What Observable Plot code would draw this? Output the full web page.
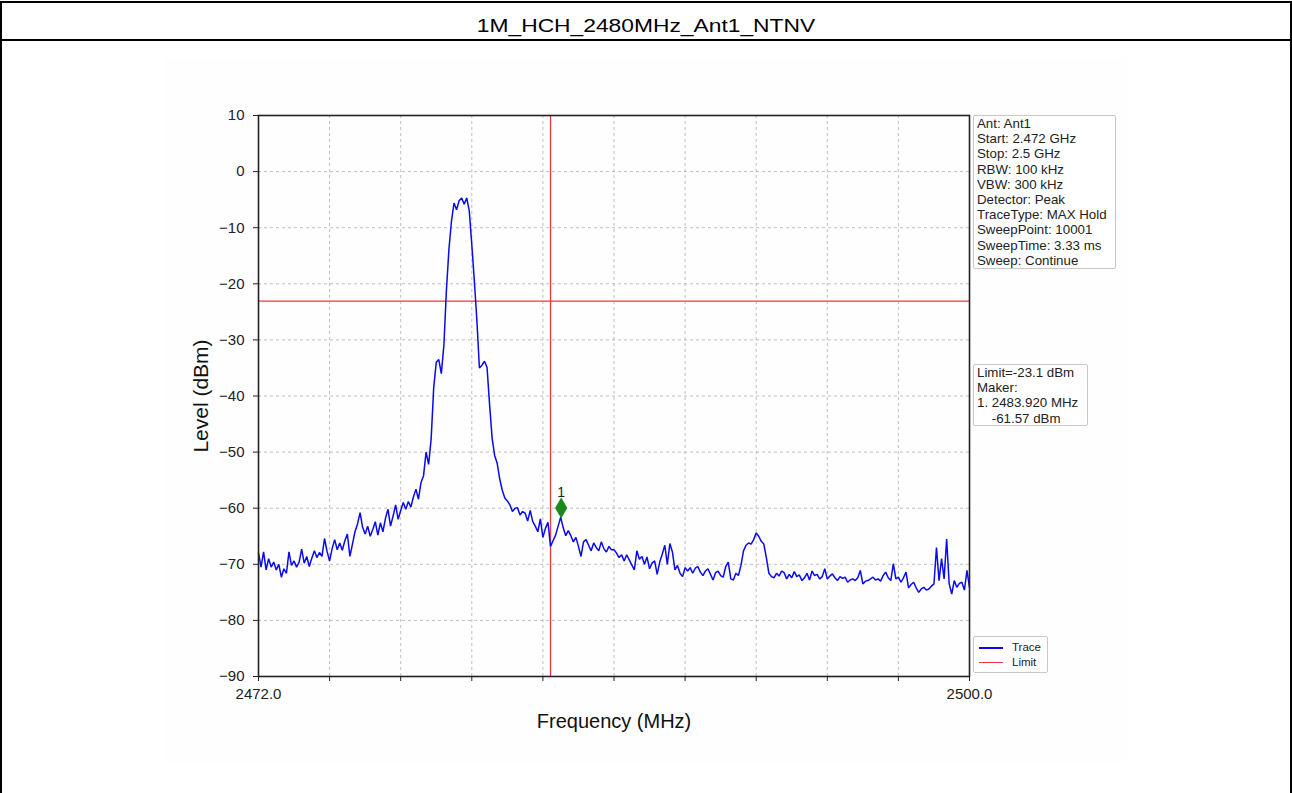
<!DOCTYPE html>
<html>
<head>
<meta charset="utf-8">
<script src="https://cdn.jsdelivr.net/npm/d3@7"></script>
<script src="https://cdn.jsdelivr.net/npm/@observablehq/plot@0.6"></script>
<style>
  html, body { margin: 0; padding: 0; background: #fff; }
  body { width: 1292px; height: 793px; overflow: hidden; font-family: "Liberation Sans", Arial, sans-serif; }
  #wrap { position: relative; width: 1292px; height: 793px; }
  #outer { position: absolute; left: 0; top: 1px; width: 1288px; height: 820px; border: 2px solid #000; }
  #titlebar { position: absolute; left: 0; top: 39px; width: 1292px; height: 2px; background: #000; }
  #title { position: absolute; left: 0; top: 15px; width: 1292px; text-align: center; font-size: 19px; line-height: 22px; color: #000; transform: scaleX(1.2); transform-origin: 646px 0; }
  #panel { position: absolute; left: 165px; top: 58px; width: 962px; height: 704px; background: #fefefe; }
  #chart { position: absolute; left: 0; top: 0; }
  .box { position: absolute; border: 1px solid #c8c8c8; border-radius: 2px; background: #fff; font-size: 13.3px; line-height: 15.2px; color: #222; padding: 0 2px 0 3px; white-space: nowrap; }
  .leg { position: absolute; font-size: 11.5px; color: #222; }
  .legline { position: absolute; height: 0; }
</style>
</head>
<body>
<div id="wrap">
  <div id="panel"></div>
  <div id="chart"></div>
  <div id="outer"></div>
  <div id="titlebar"></div>
  <div id="title"></div>
  <div id="info1" class="box" style="left:973px; top:115px; width:136px; height:152px;"></div>
  <div id="info2" class="box" style="left:973px; top:364px; width:108px; height:60px;"></div>
  <div id="legend" class="box" style="left:973px; top:636px; width:68px; height:35px;"></div>
</div>
<script>
// ---- data ----
const chartTitle = "1M_HCH_2480MHz_Ant1_NTNV";
const xLabel = "Frequency (MHz)";
const yLabel = "Level (dBm)";
const sweepStart = 2472.0;   // MHz
const sweepStop = 2500.0;    // MHz
const sweepStep = 0.1;       // MHz between read-off trace points
const traceLevel = [
  -68, -70.5, -67.8, -71, -69, -70.5, -69.6, -71, -70, -72.3,
  -70.8, -71.6, -67.8, -70.2, -69.4, -70.5, -69.6, -67.3, -69.8, -68.6,
  -70.4, -68.9, -67.6, -68.8, -67.9, -68.6, -65.4, -67.7, -69.4, -67.2,
  -65.6, -67.4, -66.2, -67.5, -65.8, -64.6, -68.6, -66.4, -64.2, -62.8,
  -60.8, -63.4, -64.6, -63.2, -65, -63.8, -62.4, -64.8, -62.6, -64.2,
  -61.8, -60.2, -63.2, -61.4, -59.4, -62, -60.4, -59, -60.2, -58.8,
  -59.8, -58, -56.6, -58.4, -55.4, -54.2, -50, -52.2, -47.6, -38.5,
  -34, -33.5, -36, -31, -21.2, -13.8, -8.8, -5.6, -6.8, -5.2,
  -4.7, -5.8, -4.7, -7, -13, -19.5, -26.5, -35, -34.5, -33.8,
  -34.9, -41.5, -47.5, -50.6, -52, -54.8, -56.8, -58.2, -58.7, -59.4,
  -60.6, -60, -59.9, -61.2, -60.6, -60.9, -62.3, -60.4, -62.4, -63.2,
  -64.2, -61.9, -65.2, -63.6, -62.5, -66.8, -65.8, -64.8, -63.2, -61.6,
  -63.5, -64.9, -64, -64.9, -66, -65.2, -66.8, -68.6, -66, -65.6,
  -66.6, -67.6, -66.2, -67, -67.6, -66, -67.2, -67.8, -66.8, -67.4,
  -67.4, -68, -68.8, -68.3, -69.4, -68.3, -69.2, -70.1, -71, -67.6,
  -69.1, -68.6, -70, -68.7, -70.8, -69.8, -69.4, -71.8, -69.6, -68.2,
  -66.6, -70, -66.3, -67.8, -71, -70.2, -71.6, -72.2, -70.6, -71.2,
  -70.6, -71.6, -70.7, -70.4, -71.4, -72, -71.2, -70.8, -71.8, -72.8,
  -71.5, -71.2, -72, -72.3, -70.4, -69.6, -72.6, -72.8, -71.6, -72,
  -70.2, -67.6, -66.6, -66.2, -66.4, -65.6, -64.4, -65, -65.9, -66.4,
  -68.8, -71.6, -72.2, -72.4, -71.6, -72.1, -71.2, -71.5, -72.6, -71.8,
  -72.4, -71.3, -72.2, -71.9, -72.9, -72.4, -71.6, -72.8, -71.2, -72,
  -71.8, -72.6, -72.2, -70.8, -72.6, -72.1, -71.7, -72.4, -72.9, -72.2,
  -72.5, -72.3, -73.2, -72.8, -72.6, -72.9, -72.4, -71.1, -73.5, -73,
  -72.9, -72.6, -72.3, -72.8, -72.6, -73, -72, -71.4, -72.4, -72.9,
  -69.9, -72.6, -72.3, -73.2, -72.4, -71.4, -74.2, -73.6, -73.2, -74.2,
  -75, -74.4, -74.1, -74.6, -74.4, -73.9, -73.5, -67, -72.9, -69,
  -72.6, -65.5, -73.5, -75.3, -72.9, -74.1, -73.4, -73.2, -74.6, -71.1,
  -74.1
];
const limitLevel = -23.1;        // dBm
const bandEdge = 2483.5;         // MHz (vertical red line)
const markerFreq = 2483.92;      // MHz
const markerLevel = -61.57;      // dBm
const markerName = "1";
const xTicks = [2472, 2474.8, 2477.6, 2480.4, 2483.2, 2486, 2488.8, 2491.6, 2494.4, 2497.2, 2500];
const xTickLabels = ["2472.0", "", "", "", "", "", "", "", "", "", "2500.0"];
const yTicks = [10, 0, -10, -20, -30, -40, -50, -60, -70, -80, -90];
const yTickLabels = ["10", "0", "\u221210", "\u221220", "\u221230", "\u221240", "\u221250", "\u221260", "\u221270", "\u221280", "\u221290"];
const infoLines = ["Ant: Ant1", "Start: 2.472 GHz", "Stop: 2.5 GHz", "RBW: 100 kHz", "VBW: 300 kHz", "Detector: Peak", "TraceType: MAX Hold", "SweepPoint: 10001", "SweepTime: 3.33 ms", "Sweep: Continue"];
const markerLines = ["Limit=-23.1 dBm", "Maker:", "1. 2483.920 MHz", "&nbsp;&nbsp;&nbsp;&nbsp;-61.57 dBm"];
const legendNames = ["Trace", "Limit"];

// ---- colours ----
const traceColor = "#0a0aee";
const limitColor = "#e8383d";
const markerColor = "#1b8a1b";

// ---- build table ----
const trace = traceLevel.map((v, i) => ({ f: sweepStart + i * sweepStep, v }));

document.getElementById("title").textContent = chartTitle;
document.getElementById("info1").innerHTML = infoLines.join("<br>");
document.getElementById("info2").innerHTML = markerLines.join("<br>");

const W = 1292, H = 793;
const chart = Plot.plot({
  width: W,
  height: H,
  marginLeft: 258,
  marginRight: W - 969,
  marginTop: 115,
  marginBottom: H - 676,
  style: { fontFamily: "'Liberation Sans', Arial, sans-serif", background: "transparent", color: "#222" },
  x: { domain: [sweepStart, sweepStop] },
  y: { domain: [-90, 10] },
  marks: [
    Plot.gridX(xTicks, { stroke: "#9a9a9a", strokeOpacity: 0.8, strokeDasharray: "3,3", strokeWidth: 0.8 }),
    Plot.gridY(yTicks, { stroke: "#9a9a9a", strokeOpacity: 0.8, strokeDasharray: "3,3", strokeWidth: 0.8 }),
    Plot.ruleY([limitLevel], { stroke: limitColor, strokeWidth: 1.3 }),
    Plot.ruleX([bandEdge], { stroke: limitColor, strokeWidth: 1.3 }),
    Plot.line(trace, { x: "f", y: "v", stroke: traceColor, strokeWidth: 1.5, strokeLinejoin: "miter" }),
    Plot.dot([{ f: markerFreq, v: markerLevel }], { x: "f", y: "v", symbol: "diamond", r: 5.5, fill: markerColor, stroke: markerColor, dy: -9 }),
    Plot.text([{ f: markerFreq, v: markerLevel, t: markerName }], { x: "f", y: "v", text: "t", dy: -24, fontSize: 14, fill: "#222" }),
    Plot.frame({ stroke: "#222", strokeWidth: 1.6 }),
    Plot.axisX(xTicks, { tickSize: 5, tickPadding: 7, fontSize: 15, tickFormat: d => xTickLabels[xTicks.indexOf(d)], label: null, stroke: "#222" }),
    Plot.axisY(yTicks, { tickSize: 5, tickPadding: 9, fontSize: 15, tickFormat: d => yTickLabels[yTicks.indexOf(d)], label: null, stroke: "#222" }),
    Plot.text([yLabel], { frameAnchor: "left", textAnchor: "middle", dx: -57, rotate: -90, fontSize: 21, fill: "#111" }),
    Plot.text([xLabel], { frameAnchor: "bottom", textAnchor: "middle", dy: 51, fontSize: 20, fill: "#111" })
  ]
});
document.getElementById("chart").appendChild(chart);

// legend
const legend = document.getElementById("legend");
[traceColor, limitColor].forEach((c, i) => {
  const ln = document.createElement("div");
  ln.className = "legline";
  ln.style.left = "5px";
  ln.style.top = (10 + i * 15) + "px";
  ln.style.width = "24px";
  ln.style.borderTop = (i === 0 ? 2 : 1.5) + "px solid " + c;
  legend.appendChild(ln);
  const tx = document.createElement("div");
  tx.className = "leg";
  tx.style.left = "38px";
  tx.style.top = (3 + i * 15) + "px";
  tx.textContent = legendNames[i];
  legend.appendChild(tx);
});
</script>
</body>
</html>
